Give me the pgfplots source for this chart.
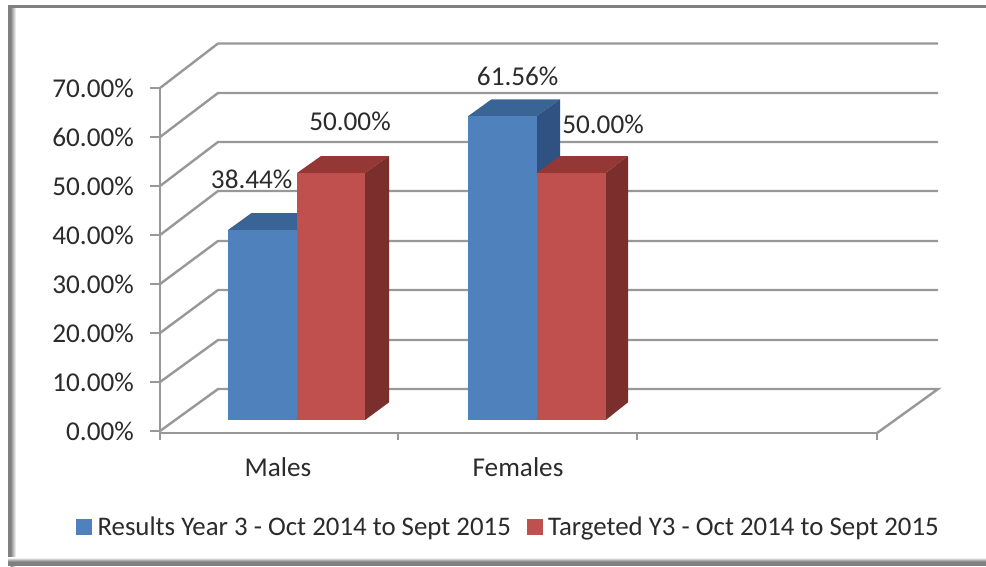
\documentclass[border=0pt]{standalone}
\usepackage{fontspec}
\setmainfont{Carlito}
\usepackage{pgfplots}
\pgfplotsset{compat=1.18}
\definecolor{gridgray}{HTML}{989898}
\definecolor{txt}{HTML}{2B2B2B}
\definecolor{blueF}{HTML}{4F81BD}
\definecolor{blueT}{HTML}{3B6496}
\definecolor{blueS}{HTML}{2F5283}
\definecolor{redF}{HTML}{C0504D}
\definecolor{redT}{HTML}{953735}
\definecolor{redS}{HTML}{7B2F2D}
\newcommand{\lab}{\fontsize{27.2}{31}\selectfont}
\newcommand{\leg}{\fontsize{26.85}{31}\selectfont}
\pgfplotsset{
  wall/.style={gridgray,line width=2.4pt,forget plot},
  face/.style={draw=none,fill=#1,forget plot},
}
\begin{document}
\begin{tikzpicture}[x=1pt,y=1pt]
\useasboundingbox (0,0) rectangle (986,566);
% picture frame with its shadow
\fill[white] (0,0) rectangle (986,566);
\fill[left color=gray,right color=white] (10.5,0) rectangle (16,560);
\fill[gray] (8,0) rectangle (10.5,560);
\fill[top color=white,bottom color=gray] (8,4.5) rectangle (986,8.5);
\fill[gray] (8,0) rectangle (986,4.5);
\fill[gray] (8,558) rectangle (986,560.5);
\begin{axis}[
  at={(160pt,133pt)}, anchor=south west,
  scale only axis, width=717pt, height=345pt,
  xmin=160, xmax=877, ymin=-0.4, ymax=70,
  clip=false,
  axis x line*=bottom, axis y line*=left,
  axis line style={gridgray,line width=2.4pt,-},
  xtick={278,518}, xticklabels={Males,Females},
  minor xtick={160,398,637,877},
  ytick={0,10,20,30,40,50,60,70},
  yticklabels={0.00\%,10.00\%,20.00\%,30.00\%,40.00\%,50.00\%,60.00\%,70.00\%},
  tick align=outside,
  major x tick style={draw=none},
  minor x tick style={gridgray,line width=2.4pt},
  minor tick length=7pt,
  y tick style={gridgray,line width=2.4pt},
  major tick length=10pt,
  yticklabel style={font=\lab,text=txt,inner sep=0pt,xshift=-16pt},
  xticklabel style={font=\lab,text=txt,inner sep=0pt,yshift=-14pt},
  legend columns=2,
  legend style={at={(-0.117,-0.272)},anchor=west,draw=none,fill=none,
    font=\leg,text=txt,inner sep=0pt,
    /tikz/every even column/.append style={column sep=14pt}},
  legend cell align=left,
]
% back wall gridlines
\addplot[wall] coordinates {(160,0) (218,8.57) (938,8.57) (877,-0.4)};
\addplot[wall] coordinates {(160,10) (218,18.57) (938,18.57)};
\addplot[wall] coordinates {(160,20) (218,28.78) (938,28.78)};
\addplot[wall] coordinates {(160,30) (218,38.78) (938,38.78)};
\addplot[wall] coordinates {(160,40) (218,48.98) (938,48.98)};
\addplot[wall] coordinates {(160,50) (218,58.98) (938,58.98)};
\addplot[wall] coordinates {(160,60) (218,68.98) (938,68.98)};
\addplot[wall] coordinates {(160,70) (218,79.08) (938,79.08)};
% Males, results
\addplot[face=blueT] coordinates {(228,41.02) (297,41.02) (320.5,44.49) (251.5,44.49)} -- cycle;
\addplot[face=blueF] coordinates {(228,2.24) (297,2.24) (297,41.02) (228,41.02)} -- cycle;
% Males, target
\addplot[face=redT] coordinates {(297,52.65) (365,52.65) (389,56.12) (321,56.12)} -- cycle;
\addplot[face=redS] coordinates {(365,2.24) (389,5.86) (389,56.12) (365,52.65)} -- cycle;
\addplot[face=redF] coordinates {(297,2.24) (365,2.24) (365,52.65) (297,52.65)} -- cycle;
% Females, results
\addplot[face=blueT] coordinates {(468.3,64.29) (536.7,64.29) (560,67.69) (491.5,67.69)} -- cycle;
\addplot[face=blueS] coordinates {(536.7,2.24) (560,5.86) (560,67.69) (536.7,64.29)} -- cycle;
\addplot[face=blueF] coordinates {(468.3,2.24) (536.7,2.24) (536.7,64.29) (468.3,64.29)} -- cycle;
% Females, target
\addplot[face=redT] coordinates {(536.7,52.65) (605.7,52.65) (628,56.12) (560,56.12)} -- cycle;
\addplot[face=redS] coordinates {(605.7,2.24) (628,5.86) (628,56.12) (605.7,52.65)} -- cycle;
\addplot[face=redF] coordinates {(536.7,2.24) (605.7,2.24) (605.7,52.65) (536.7,52.65)} -- cycle;
% value labels
\node[font=\lab,text=txt] at (axis cs:251.7,51.4) {38.44\%};
\node[font=\lab,text=txt] at (axis cs:350,63.1) {50.00\%};
\node[font=\lab,text=txt] at (axis cs:517.7,72.4) {61.56\%};
\node[font=\lab,text=txt] at (axis cs:603,62.5) {50.00\%};
% legend
\addlegendimage{legend image code/.code={\fill[blueF] (0pt,-7.5pt) rectangle (15pt,7.5pt);\path[draw=none] (0pt,0pt) -- (19pt,0pt);}}
\addlegendentry{Results Year 3 - Oct 2014 to Sept 2015}
\addlegendimage{legend image code/.code={\fill[redF] (0pt,-7.5pt) rectangle (15pt,7.5pt);\path[draw=none] (0pt,0pt) -- (19pt,0pt);}}
\addlegendentry{Targeted Y3 - Oct 2014 to Sept 2015}
\end{axis}
\end{tikzpicture}
\end{document}
